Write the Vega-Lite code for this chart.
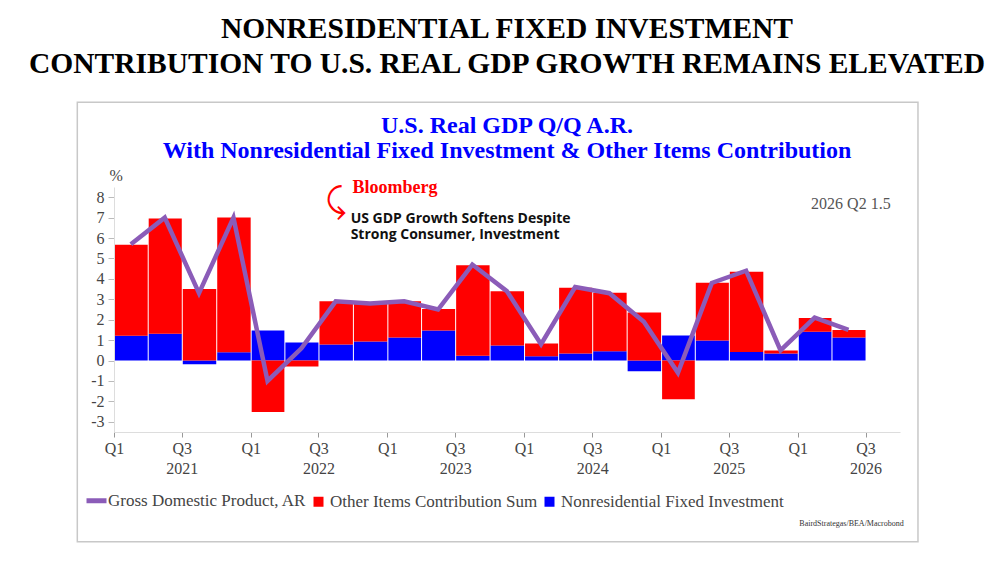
{
  "$schema": "https://vega.github.io/schema/vega-lite/v6.json",
  "autosize": "none",
  "padding": {"left": 114, "top": 187, "right": 105, "bottom": 136},
  "width": 786,
  "height": 245,
  "background": "white",
  "config": {
    "view": {"stroke": null},
    "font": "Liberation Serif"
  },
  "title": {
    "text": ["NONRESIDENTIAL FIXED INVESTMENT", "CONTRIBUTION TO U.S. REAL GDP GROWTH REMAINS ELEVATED"],
    "subtitle": ["U.S. Real GDP Q/Q A.R.", "With Nonresidential Fixed Investment & Other Items Contribution"],
    "anchor": "middle",
    "frame": "group",
    "offset": -62,
    "font": "Liberation Serif",
    "fontSize": 29.5,
    "fontWeight": "bold",
    "color": "#000000",
    "lineHeight": 35,
    "subtitleFont": "Liberation Serif",
    "subtitleFontSize": 24,
    "subtitleFontWeight": "bold",
    "subtitleColor": "#0000ff",
    "subtitleLineHeight": 25,
    "subtitlePadding": 34
  },
  "data": {
    "values": [
      {"quarter": "2021-01-01", "gdp": 5.7, "nfi": 1.21, "other": 4.46},
      {"quarter": "2021-04-01", "gdp": 7.0, "nfi": 1.31, "other": 5.65},
      {"quarter": "2021-07-01", "gdp": 3.3, "nfi": -0.18, "other": 3.5},
      {"quarter": "2021-10-01", "gdp": 7.0, "nfi": 0.41, "other": 6.6},
      {"quarter": "2022-01-01", "gdp": -1.0, "nfi": 1.47, "other": -2.52},
      {"quarter": "2022-04-01", "gdp": 0.6, "nfi": 0.88, "other": -0.29},
      {"quarter": "2022-07-01", "gdp": 2.9, "nfi": 0.78, "other": 2.13},
      {"quarter": "2022-10-01", "gdp": 2.8, "nfi": 0.93, "other": 1.87},
      {"quarter": "2023-01-01", "gdp": 2.9, "nfi": 1.13, "other": 1.78},
      {"quarter": "2023-04-01", "gdp": 2.5, "nfi": 1.47, "other": 1.06},
      {"quarter": "2023-07-01", "gdp": 4.7, "nfi": 0.23, "other": 4.44},
      {"quarter": "2023-10-01", "gdp": 3.4, "nfi": 0.74, "other": 2.66},
      {"quarter": "2024-01-01", "gdp": 0.8, "nfi": 0.21, "other": 0.62},
      {"quarter": "2024-04-01", "gdp": 3.6, "nfi": 0.34, "other": 3.22},
      {"quarter": "2024-07-01", "gdp": 3.3, "nfi": 0.46, "other": 2.86},
      {"quarter": "2024-10-01", "gdp": 1.9, "nfi": -0.52, "other": 2.35},
      {"quarter": "2025-01-01", "gdp": -0.6, "nfi": 1.23, "other": -1.9},
      {"quarter": "2025-04-01", "gdp": 3.8, "nfi": 0.98, "other": 2.83},
      {"quarter": "2025-07-01", "gdp": 4.4, "nfi": 0.42, "other": 3.93},
      {"quarter": "2025-10-01", "gdp": 0.5, "nfi": 0.34, "other": 0.15},
      {"quarter": "2026-01-01", "gdp": 2.1, "nfi": 1.41, "other": 0.67},
      {"quarter": "2026-04-01", "gdp": 1.5, "nfi": 1.13, "other": 0.36}
    ]
  },
  "layer": [
    {
      "data": {"values": [{"frame": "panel"}]},
      "mark": {"type": "rect", "filled": false, "stroke": "#c8c8c8", "strokeWidth": 1.5},
      "encoding": {
        "x": {"datum": {"year": 2020, "month": 9, "date": 25, "utc": true}, "type": "temporal"},
        "x2": {"datum": {"year": 2026, "month": 11, "date": 18, "utc": true}},
        "y": {"datum": 12.65, "type": "quantitative"},
        "y2": {"datum": -8.87}
      }
    },
    {
      "transform": [{"fold": ["nfi", "other"], "as": ["series", "value"]}],
      "mark": {"type": "bar", "timeUnitBandSize": 0.9, "timeUnitBandPosition": 0.05},
      "encoding": {
        "x": {
          "field": "quarter",
          "timeUnit": "utcyearquarter",
          "type": "temporal",
          "scale": {
            "type": "utc",
            "domain": [
              {"year": 2021, "month": 1, "date": 1, "utc": true},
              {"year": 2026, "month": 10, "date": 1, "utc": true}
            ]
          },
          "axis": {
            "title": null,
            "grid": false,
            "tickCount": 24,
            "values": [
              {"year": 2021, "month": 1, "date": 1, "utc": true},
              {"year": 2021, "month": 7, "date": 1, "utc": true},
              {"year": 2022, "month": 1, "date": 1, "utc": true},
              {"year": 2022, "month": 7, "date": 1, "utc": true},
              {"year": 2023, "month": 1, "date": 1, "utc": true},
              {"year": 2023, "month": 7, "date": 1, "utc": true},
              {"year": 2024, "month": 1, "date": 1, "utc": true},
              {"year": 2024, "month": 7, "date": 1, "utc": true},
              {"year": 2025, "month": 1, "date": 1, "utc": true},
              {"year": 2025, "month": 7, "date": 1, "utc": true},
              {"year": 2026, "month": 1, "date": 1, "utc": true},
              {"year": 2026, "month": 7, "date": 1, "utc": true}
            ],
            "labelExpr": "utcmonth(datum.value) == 0 ? 'Q1' : ['Q3', '' + utcyear(datum.value)]",
            "labelFont": "Liberation Serif",
            "labelFontSize": 16,
            "labelColor": "#444444",
            "labelLineHeight": 20,
            "labelBaseline": "top",
            "labelPadding": 3,
            "labelFlush": false,
            "labelOverlap": false,
            "tickSize": 5,
            "tickColor": "#999999",
            "domainColor": "#dddddd"
          }
        },
        "y": {
          "field": "value",
          "type": "quantitative",
          "stack": "zero",
          "scale": {"domain": [-3.5, 8.5], "nice": false},
          "axis": {
            "values": [-3, -2, -1, 0, 1, 2, 3, 4, 5, 6, 7, 8],
            "tickCount": 24,
            "labelExpr": "'' + datum.value",
            "labelOverlap": false,
            "grid": false,
            "title": "%",
            "titleAngle": 0,
            "titleAlign": "left",
            "titleBaseline": "middle",
            "titleX": -5,
            "titleY": -12,
            "titleFont": "Liberation Serif",
            "titleFontSize": 16,
            "titleFontWeight": "normal",
            "titleColor": "#444444",
            "labelFont": "Liberation Serif",
            "labelFontSize": 16,
            "labelColor": "#444444",
            "labelPadding": 4,
            "tickSize": 6,
            "tickColor": "#bbbbbb",
            "domainColor": "#dddddd"
          }
        },
        "color": {
          "field": "series",
          "type": "nominal",
          "scale": {
            "domain": ["gdp", "other", "nfi"],
            "range": ["#8b5cb8", "#ff0000", "#0000ff"]
          },
          "legend": {
            "orient": "none",
            "legendX": -26,
            "legendY": 305,
            "direction": "horizontal",
            "title": null,
            "labelExpr": "{'gdp': 'Gross Domestic Product, AR', 'other': 'Other Items Contribution Sum', 'nfi': 'Nonresidential Fixed Investment'}[datum.label]",
            "labelFont": "Liberation Serif",
            "labelFontSize": 17,
            "labelColor": "#444444",
            "labelLimit": 400,
            "labelOffset": 3,
            "symbolSize": 400,
            "columnPadding": 3,
            "encode": {
              "symbols": {
                "update": {
                  "shape": {"signal": "datum.value === 'gdp' ? 'stroke' : 'square'"},
                  "size": {"signal": "datum.value === 'gdp' ? 400 : 100"},
                  "strokeWidth": {"signal": "datum.value === 'gdp' ? 5 : 0"},
                  "stroke": {"scale": "color", "field": "value"},
                  "fill": {"scale": "color", "field": "value"},
                  "opacity": {"value": 1}
                }
              }
            }
          }
        },
        "order": {"field": "series", "sort": "ascending"}
      }
    },
    {
      "mark": {"type": "line", "strokeWidth": 4.5, "color": "#8b5cb8"},
      "encoding": {
        "x": {"field": "quarter", "timeUnit": "utcyearquarter", "type": "temporal", "bandPosition": 0.5},
        "y": {"field": "gdp", "type": "quantitative"},
        "color": {"datum": "gdp"}
      }
    },
    {
      "transform": [{"filter": "datum.quarter == '2026-04-01'"}],
      "mark": {"type": "point", "filled": true, "fill": "#808080", "fillOpacity": 0.6, "stroke": "#a0a0a0", "strokeWidth": 2, "size": 220},
      "encoding": {
        "x": {"field": "quarter", "timeUnit": "utcyearquarter", "type": "temporal", "bandPosition": 0.5},
        "y": {"field": "gdp", "type": "quantitative"}
      }
    },
    {
      "data": {"values": [{"label": "Bloomberg"}]},
      "mark": {"type": "text", "font": "Liberation Serif", "fontSize": 18, "fontWeight": "bold", "fill": "#ff0000", "align": "left", "baseline": "middle"},
      "encoding": {
        "text": {"field": "label"},
        "x": {"datum": {"year": 2022, "month": 9, "date": 30, "utc": true}, "type": "temporal"},
        "y": {"datum": 8.45, "type": "quantitative"}
      }
    },
    {
      "data": {"values": [{"label": "⤹"}]},
      "mark": {"type": "text", "font": "DejaVu Sans", "fontSize": 34, "fill": "#ff0000", "align": "center", "baseline": "middle"},
      "encoding": {
        "text": {"field": "label"},
        "x": {"datum": {"year": 2022, "month": 8, "date": 17, "utc": true}, "type": "temporal"},
        "y": {"datum": 7.75, "type": "quantitative"}
      }
    },
    {
      "data": {"values": [{"label": ["US GDP Growth Softens Despite", "Strong Consumer, Investment"]}]},
      "mark": {"type": "text", "font": "Open Sans", "fontSize": 14, "fontWeight": "bold", "fill": "#111111", "align": "left", "baseline": "alphabetic", "lineHeight": 16.5},
      "encoding": {
        "text": {"field": "label"},
        "x": {"datum": {"year": 2022, "month": 9, "date": 25, "utc": true}, "type": "temporal"},
        "y": {"datum": 6.76, "type": "quantitative"}
      }
    },
    {
      "data": {"values": [{"label": "2026 Q2 1.5"}]},
      "mark": {"type": "text", "font": "Liberation Serif", "fontSize": 16, "fill": "#555555", "align": "right", "baseline": "middle"},
      "encoding": {
        "text": {"field": "label"},
        "x": {"datum": {"year": 2026, "month": 9, "date": 6, "utc": true}, "type": "temporal"},
        "y": {"datum": 7.65, "type": "quantitative"}
      }
    },
    {
      "data": {"values": [{"label": "BairdStrategas/BEA/Macrobond"}]},
      "mark": {"type": "text", "font": "Liberation Serif", "fontSize": 8, "fill": "#333333", "align": "right", "baseline": "middle"},
      "encoding": {
        "text": {"field": "label"},
        "x": {"datum": {"year": 2026, "month": 10, "date": 11, "utc": true}, "type": "temporal"},
        "y": {"datum": -8.02, "type": "quantitative"}
      }
    }
  ]
}
